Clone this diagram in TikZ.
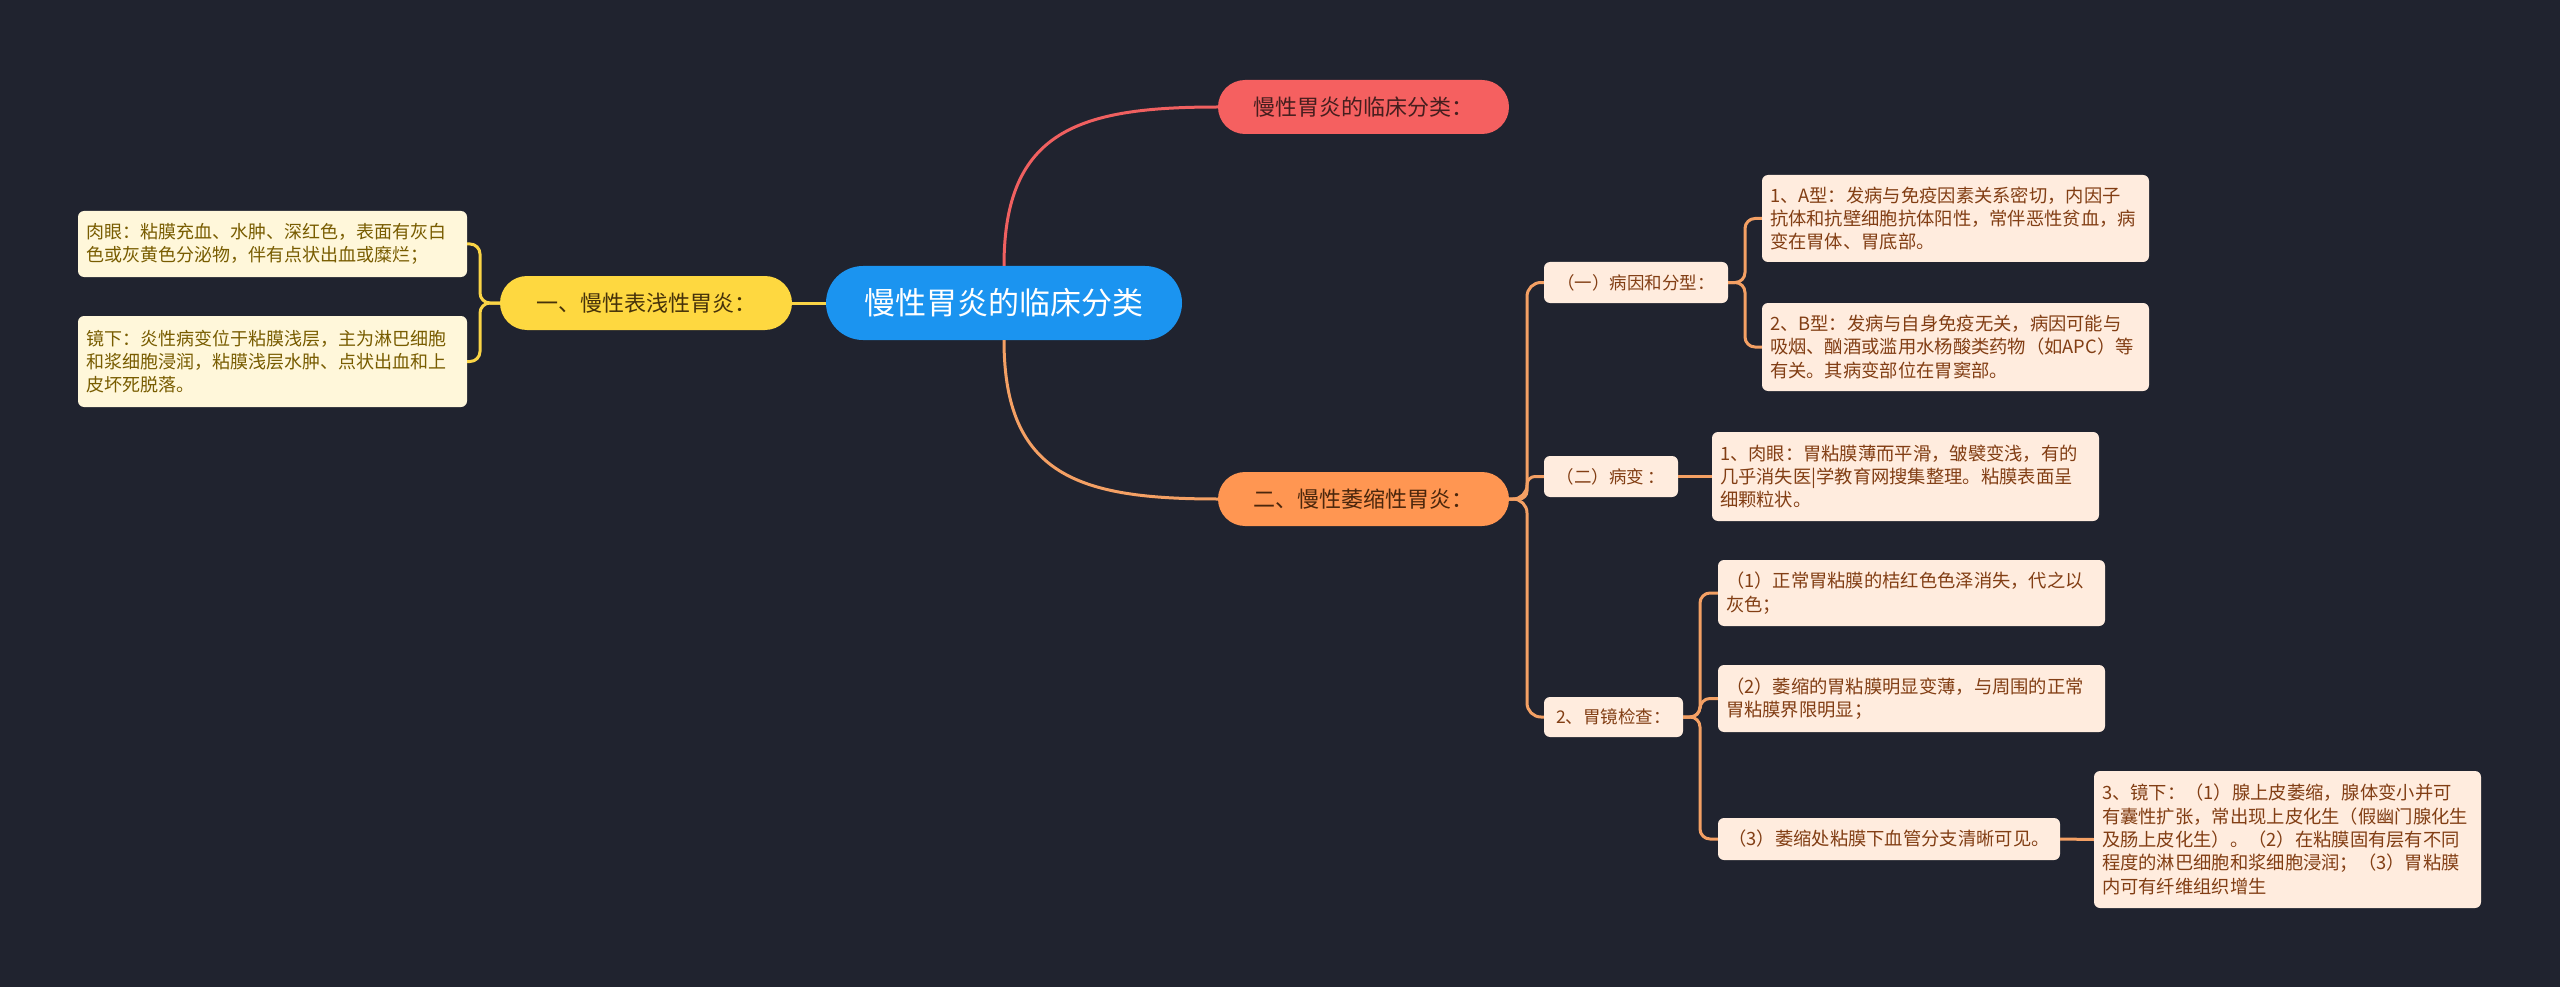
\documentclass[tikz,border=0pt]{standalone}
\usepackage{fontspec}
\setmainfont{Noto Sans CJK SC}
\definecolor{bg}{RGB}{32,35,47}
\definecolor{rootc}{RGB}{27,148,240}
\definecolor{redc}{RGB}{245,96,96}
\definecolor{redt}{RGB}{70,30,30}
\definecolor{yelc}{RGB}{254,216,64}
\definecolor{yelt}{RGB}{70,50,10}
\definecolor{orac}{RGB}{255,150,82}
\definecolor{orat}{RGB}{75,38,12}
\definecolor{leafR}{RGB}{255,236,222}
\definecolor{leafRt}{RGB}{130,62,20}
\definecolor{leafL}{RGB}{255,247,218}
\definecolor{leafLt}{RGB}{120,92,0}
\definecolor{lineO}{RGB}{244,160,100}
\definecolor{lineY}{RGB}{250,212,70}
\definecolor{lineR}{RGB}{240,96,96}
\begin{document}
\begin{tikzpicture}[x=1pt,y=-1pt,
  pill/.style={rounded corners=27, minimum height=54, inner sep=0pt, font=\fontsize{22}{26}\selectfont},
  box/.style={rounded corners=6, inner sep=0pt},
  leafr/.style={box, fill=leafR, text=leafRt, align=left, inner xsep=8pt, text width=371, font=\fontsize{18.3}{23.4}\selectfont},
  leafl/.style={box, fill=leafL, text=leafLt, align=left, inner xsep=8pt, text width=373, font=\fontsize{18}{23.4}\selectfont},
  subr/.style={box, fill=leafR, text=leafRt, font=\fontsize{17.5}{21}\selectfont},
  lnO/.style={draw=lineO, line width=3},
  lnY/.style={draw=lineY, line width=3},
  lnR/.style={draw=lineR, line width=3}
]
\fill[bg] (0,0) rectangle (2560,987);
\useasboundingbox (0,0) rectangle (2560,987);

% main nodes
\node[pill, fill=rootc, text=white, minimum width=356, minimum height=74, rounded corners=37, font=\fontsize{31}{36}\selectfont] (root) at (1004,303) {慢性胃炎的临床分类};
\node[pill, fill=redc, text=redt, minimum width=291] (red) at (1363.5,107) {慢性胃炎的临床分类：};
\node[pill, fill=yelc, text=yelt, minimum width=292] (yel) at (646,303) {一、慢性表浅性胃炎：};
\node[pill, fill=orac, text=orat, minimum width=291] (ora) at (1363.5,499) {二、慢性萎缩性胃炎：};

% left leaves
\node[leafl, minimum height=66] (la) at (272.5,244) {肉眼：粘膜充血、水肿、深红色，表面有灰白\\色或灰黄色分泌物，伴有点状出血或糜烂；};
\node[leafl, minimum height=91] (lb) at (272.5,361.5) {镜下：炎性病变位于粘膜浅层，主为淋巴细胞\\和浆细胞浸润，粘膜浅层水肿、点状出血和上\\皮坏死脱落。};

% level 2 right
\node[subr, minimum width=184, minimum height=41] (s1) at (1636,282.5) {（一）病因和分型：};
\node[subr, minimum width=134, minimum height=41] (s2) at (1611,476.5) {（二）病变 ：};
\node[subr, minimum width=139, minimum height=40] (s3) at (1613.5,717) {2、胃镜检查：};

% right leaves
\node[leafr, minimum height=87] (A) at (1955.5,218.5) {1、A型：发病与免疫因素关系密切，内因子\\抗体和抗壁细胞抗体阳性，常伴恶性贫血，病\\变在胃体、胃底部。};
\node[leafr, minimum height=88] (B) at (1955.5,347) {2、B型：发病与自身免疫无关，病因可能与\\吸烟、酗酒或滥用水杨酸类药物（如APC）等\\有关。其病变部位在胃窦部。};
\node[leafr, minimum height=89] (C) at (1905.5,476.5) {1、肉眼：胃粘膜薄而平滑，皱襞变浅，有的\\几乎消失医|学教育网搜集整理。粘膜表面呈\\细颗粒状。};
\node[leafr, minimum height=66] (D) at (1911.5,593) {（1）正常胃粘膜的桔红色色泽消失，代之以\\灰色；};
\node[leafr, minimum height=67] (E) at (1911.5,698.5) {（2）萎缩的胃粘膜明显变薄，与周围的正常\\胃粘膜界限明显；};
\node[subr, minimum width=342, minimum height=42, font=\fontsize{18.3}{23.4}\selectfont] (F) at (1889,839) {（3）萎缩处粘膜下血管分支清晰可见。};
\node[leafr, minimum height=137] (G) at (2287.5,839.5) {3、镜下：（1）腺上皮萎缩，腺体变小并可\\有囊性扩张，常出现上皮化生（假幽门腺化生\\及肠上皮化生）。（2）在粘膜固有层有不同\\程度的淋巴细胞和浆细胞浸润；（3）胃粘膜\\内可有纤维组织增生};

% connectors
\draw[lnY] (root.west) -- (yel.east);
\draw[lnY, rounded corners=10] (yel.west) -- (480,303) |- (la.east);
\draw[lnY, rounded corners=10] (yel.west) -- (480,303) |- (lb.east);
\draw[lnR] (root.north) .. controls +(0,-136) and +(-138,0) .. (red.west);
\draw[lnO] (root.south) .. controls +(0,136) and +(-138,0) .. (ora.west);

\draw[lnO, rounded corners=14] (ora.east) -- (1527,499) |- (s1.west);
\draw[lnO, rounded corners=8] (ora.east) -- (1527,499) |- (s2.west);
\draw[lnO, rounded corners=14] (ora.east) -- (1527,499) |- (s3.west);

\draw[lnO, rounded corners=10] (s1.east) -- (1745,282.5) |- (A.west);
\draw[lnO, rounded corners=10] (s1.east) -- (1745,282.5) |- (B.west);
\draw[lnO] (s2.east) -- (C.west);
\draw[lnO, rounded corners=10] (s3.east) -- (1700,717) |- (D.west);
\draw[lnO, rounded corners=10] (s3.east) -- (1700,717) |- (E.west);
\draw[lnO, rounded corners=10] (s3.east) -- (1700,717) |- (F.west);
\draw[lnO] (F.east) -- (G.west);
\end{tikzpicture}
\end{document}
